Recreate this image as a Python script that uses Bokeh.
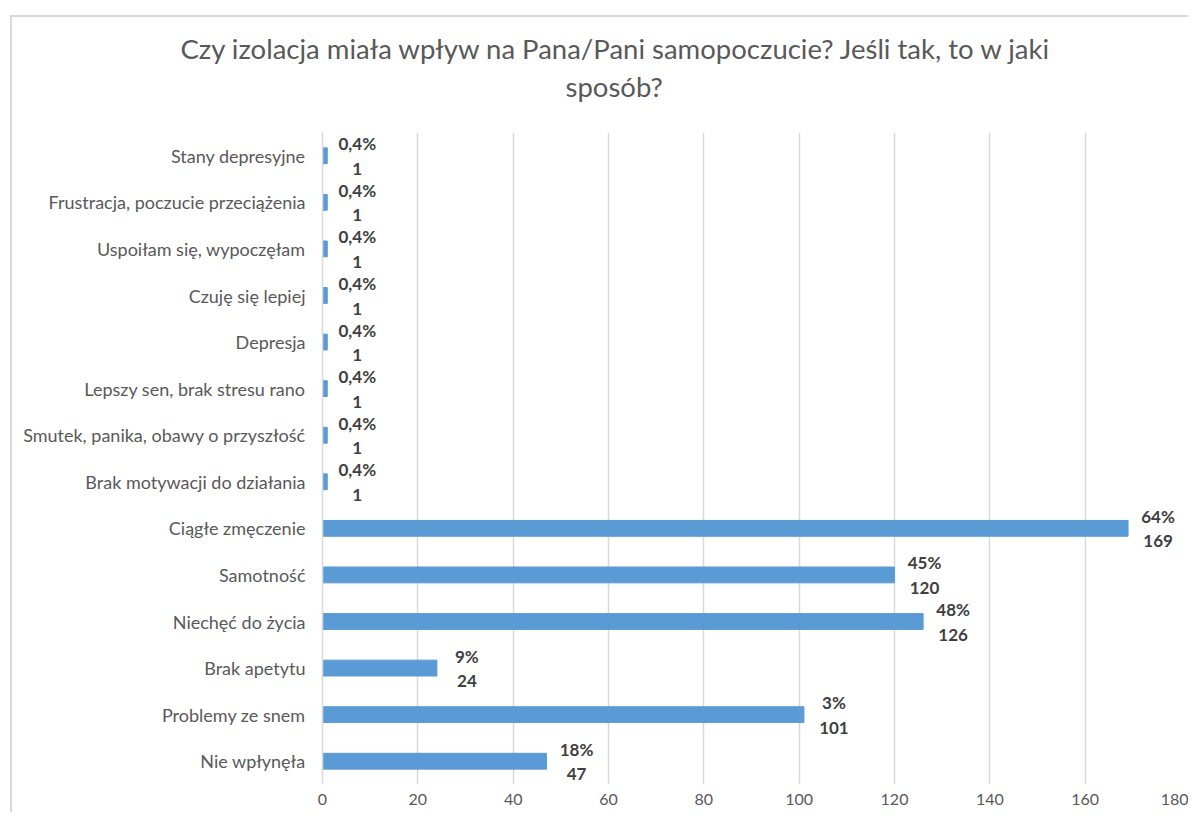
from bokeh.plotting import figure
from bokeh.models import FactorRange, Range1d, Title, ColumnDataSource
from bokeh.embed import file_html
from bokeh.resources import INLINE
from bokeh.core.properties import value

categories = [
    "Nie wpłynęła",
    "Problemy ze snem",
    "Brak apetytu",
    "Niechęć do życia",
    "Samotność",
    "Ciągłe zmęczenie",
    "Brak motywacji do działania",
    "Smutek, panika, obawy o przyszłość",
    "Lepszy sen, brak stresu rano",
    "Depresja",
    "Czuję się lepiej",
    "Uspoiłam się, wypoczęłam",
    "Frustracja, poczucie przeciążenia",
    "Stany depresyjne",
]
counts = [47, 101, 24, 126, 120, 169, 1, 1, 1, 1, 1, 1, 1, 1]
percents = ["18%", "3%", "9%", "48%", "45%", "64%",
            "0,4%", "0,4%", "0,4%", "0,4%", "0,4%", "0,4%", "0,4%", "0,4%"]
x_ticks = [0, 20, 40, 60, 80, 100, 120, 140, 160, 180]
title_lines = ["Czy izolacja miała wpływ na Pana/Pani samopoczucie? Jeśli tak, to w jaki",
               "sposób?"]

FONT = "Lato"
BAR = "#5B9BD5"
GRID = "#D9D9D9"
TXT = "#595959"
LBL = "#404040"

src = ColumnDataSource(dict(cat=categories, cnt=counts, pct=percents,
                            cnt_s=[str(c) for c in counts]))

p = figure(width=1188, height=812, output_backend="svg", toolbar_location=None,
           y_range=FactorRange(*categories), x_range=Range1d(0, 180),
           min_border_left=322, min_border_right=8, min_border_top=132,
           min_border_bottom=28)

# chart-area border (top and left edges of the chart box)
p.border_fill_color = None
p.styles = {
    "background": (f"linear-gradient({GRID},{GRID}) 10px 15px / calc(100% - 10px) 2px no-repeat, "
                   f"linear-gradient({GRID},{GRID}) 10px 15px / 2px calc(100% - 15px) no-repeat, "
                   "#ffffff"),
}

p.hbar(y="cat", right="cnt", left=0, height=0.34, source=src,
       fill_color=BAR, line_color=BAR)

p.text(x="cnt", y="cat", text="pct", source=src, x_offset=30, y_offset=-12,
       text_align="center", text_baseline="middle", text_font=value(FONT),
       text_font_style="bold", text_font_size="17px", text_color=LBL)
p.text(x="cnt", y="cat", text="cnt_s", source=src, x_offset=30, y_offset=13,
       text_align="center", text_baseline="middle", text_font=value(FONT),
       text_font_style="bold", text_font_size="17px", text_color=LBL)

p.outline_line_color = None
p.ygrid.grid_line_color = None
p.xgrid.grid_line_color = GRID
p.xgrid.grid_line_width = 1.5
p.xgrid.ticker = x_ticks
p.xaxis.ticker = x_ticks
p.xaxis.axis_line_color = None
p.xaxis.major_tick_line_color = None
p.xaxis.minor_tick_line_color = None
p.xaxis.major_tick_out = 0
p.xaxis.major_label_standoff = 9
p.xaxis.major_label_text_font = FONT
p.xaxis.major_label_text_font_size = "16px"
p.xaxis.major_label_text_color = TXT

p.yaxis.axis_line_color = GRID
p.yaxis.axis_line_width = 1.5
p.yaxis.major_tick_line_color = None
p.yaxis.minor_tick_line_color = None
p.yaxis.major_tick_out = 0
p.yaxis.major_label_standoff = 17
p.yaxis.major_label_text_font = FONT
p.yaxis.major_label_text_font_size = "18px"
p.yaxis.major_label_text_color = TXT

p.title = None
spacer = Title(text=" ", text_font=FONT, text_font_size="10px", standoff=14)
t2 = Title(text=title_lines[1], align="left", offset=243, text_font=FONT,
           text_font_size="27.5px", text_font_style="normal", text_color=TXT, standoff=3)
t1 = Title(text=title_lines[0], align="left", offset=-142, text_font=FONT,
           text_font_size="27.5px", text_font_style="normal", text_color=TXT, standoff=4)
p.add_layout(spacer, "above")
p.add_layout(t2, "above")
p.add_layout(t1, "above")

open("out.html", "w").write(file_html(p, INLINE))
